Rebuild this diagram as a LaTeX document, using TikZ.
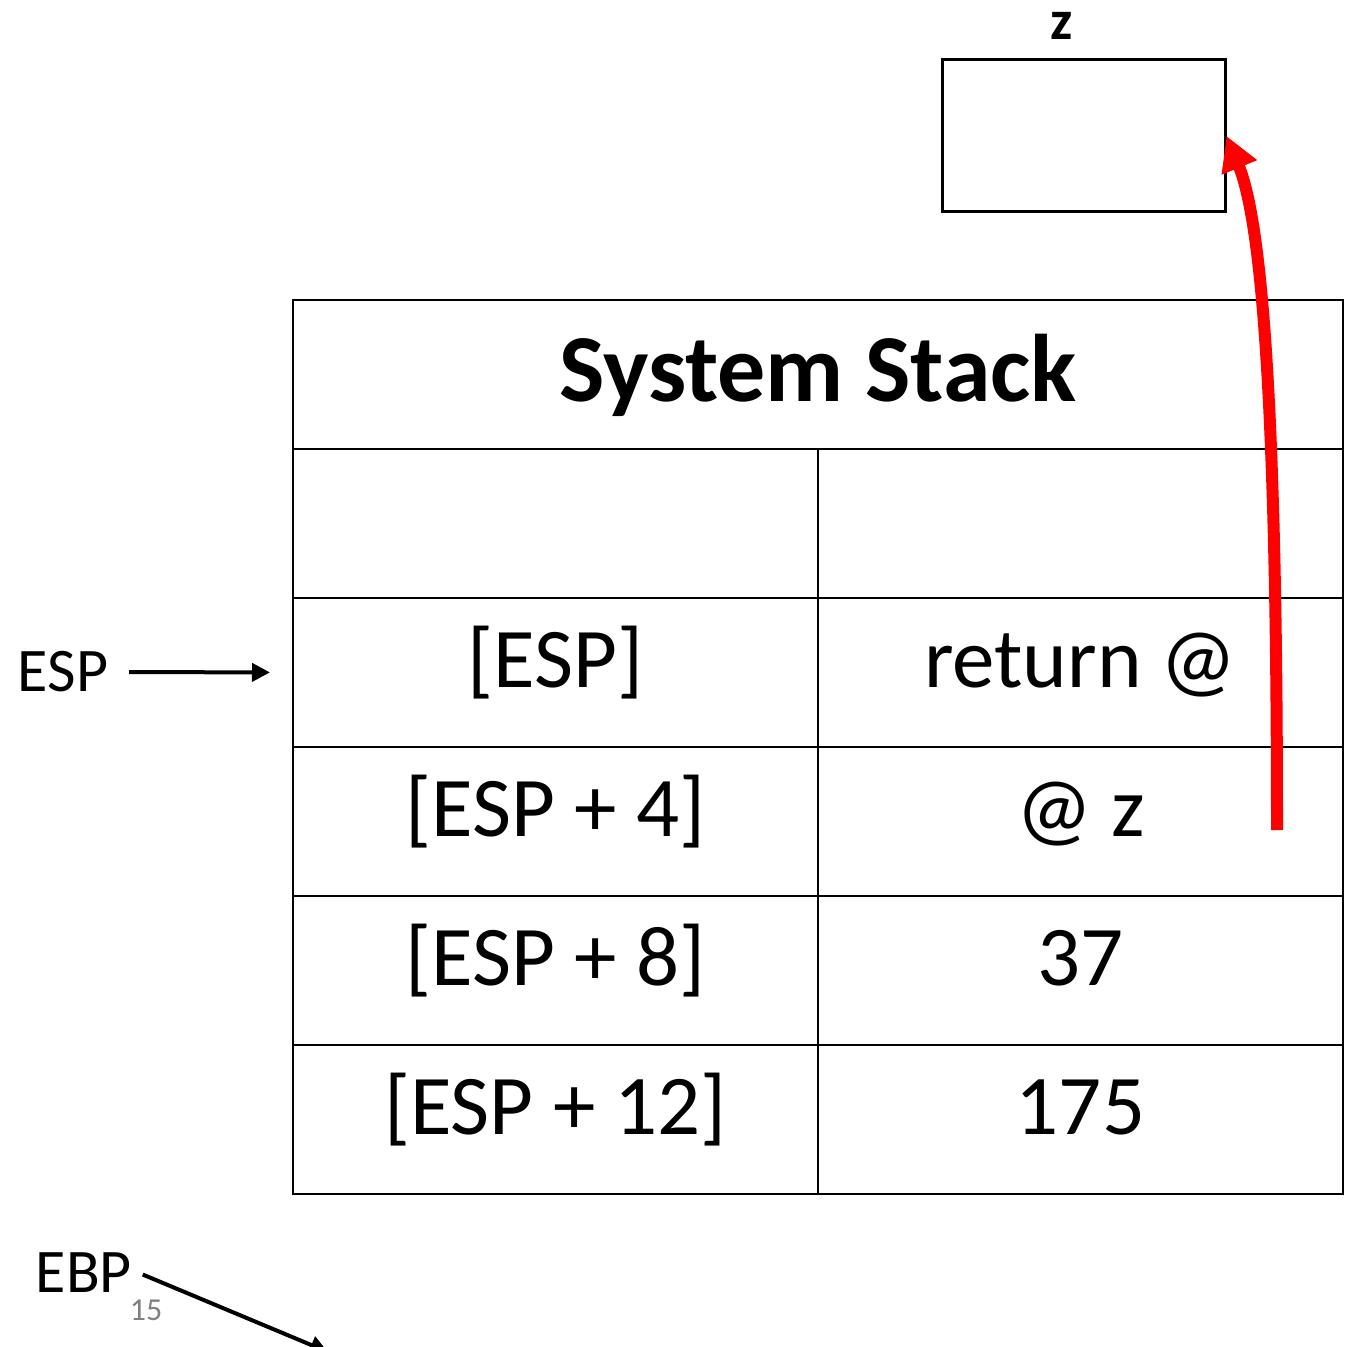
\documentclass[tikz,border=0pt]{standalone}
\usepackage{fontspec}
\setmainfont{Carlito}
\usepackage{tikz}
\usetikzlibrary{arrows.meta,positioning}

\begin{document}
\begin{tikzpicture}[x=0.5pt, y=-0.5pt,
    cell/.style={draw, line width=1pt, minimum width=262.5pt, minimum height=74.5pt,
        inner sep=0pt, outer sep=0pt, text height=30pt, text depth=15pt,
        font=\fontsize{42.5}{51}\selectfont},
    reg/.style={font=\fontsize{31}{37}\selectfont},
    ptr/.style={-{Triangle[length=9pt,width=9pt]}, line width=2pt},
    ret/.style={-{Triangle[length=17pt,width=18pt]}, line width=6pt, red}]
    \useasboundingbox (0,0) rectangle (1350,1347);

    % Variable z
    \node[draw, line width=1.5pt, minimum width=141.5pt, minimum height=76pt] (zbox) at (1083.5,136) {};
    \node[font=\fontsize{28}{34}\selectfont\bfseries] (zlabel) at (1062,26) {z};

    % Stack title
    \node[cell, minimum width=525pt, text height=36pt, text depth=8.5pt,
        font=\fontsize{48}{58}\selectfont\bfseries] (title) at (818,374.5) {System Stack};

    % Left column: offsets
    \node[cell, anchor=north west] (r1l) at (title.south west) {};
    \node[cell, below=0pt of r1l] (r2l) {[ESP]};
    \node[cell, below=0pt of r2l] (r3l) {[ESP + 4]};
    \node[cell, below=0pt of r3l] (r4l) {[ESP + 8]};
    \node[cell, below=0pt of r4l] (r5l) {[ESP + 12]};

    % Right column: values
    \node[cell, right=0pt of r1l] (r1r) {};
    \node[cell, right=0pt of r2l] (r2r) {return @};
    \node[cell, right=0pt of r3l] (r3r) {@ z};
    \node[cell, right=0pt of r4l] (r4r) {37};
    \node[cell, right=0pt of r5l] (r5r) {175};

    % Registers
    \node[reg] (esp) at (63,672) {ESP};
    \node[reg] (ebp) at (84,1273) {EBP};
    \node[text=gray, font=\fontsize{16}{19}\selectfont] (pagenum) at (146,1310) {15};

    \draw[ptr, shorten <=7pt, shorten >=11.5pt] (esp.east) -- (r2l.west);
    \coordinate (ebpend) at (328,1352);
    \draw[ptr, shorten <=2pt] (ebp.east) -- (ebpend);

    % Pointer @ z to z
    \coordinate (retstart) at (1277,830);
    \draw[ret] (retstart) .. controls (1277,450) and (1265,230) .. (zbox.east);
\end{tikzpicture}
\end{document}
